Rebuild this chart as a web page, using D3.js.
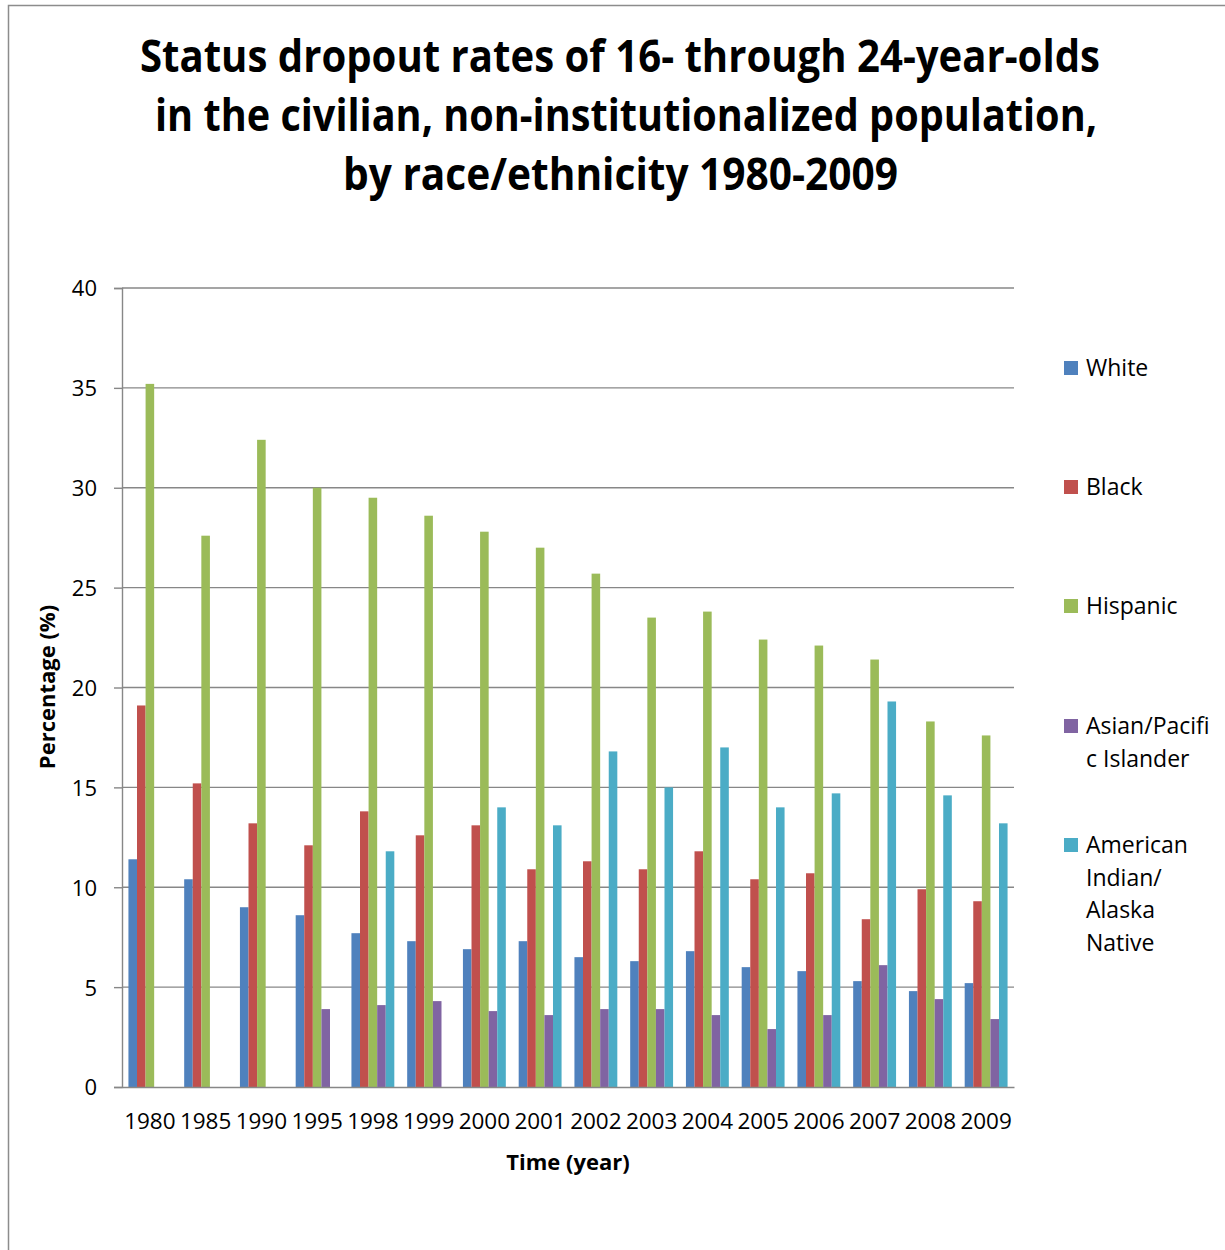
<!DOCTYPE html>
<html>
<head>
<meta charset="utf-8">
<script src="https://cdn.jsdelivr.net/npm/d3@7"></script>
<style>
  html, body { margin: 0; padding: 0; background: #fff; }
  svg { display: block; }
</style>
</head>
<body>
<svg id="chart" width="1225" height="1250"></svg>
<script>
// Status dropout rates (%) by race/ethnicity, 1980-2009
const years = ["1980","1985","1990","1995","1998","1999","2000","2001","2002","2003","2004","2005","2006","2007","2008","2009"];
const seriesNames = ["White", "Black", "Hispanic", "Asian/Pacific Islander", "American Indian/ Alaska Native"];
const white    = [11.4, 10.4, 9.0, 8.6, 7.7, 7.3, 6.9, 7.3, 6.5, 6.3, 6.8, 6.0, 5.8, 5.3, 4.8, 5.2];
const black    = [19.1, 15.2, 13.2, 12.1, 13.8, 12.6, 13.1, 10.9, 11.3, 10.9, 11.8, 10.4, 10.7, 8.4, 9.9, 9.3];
const hispanic = [35.2, 27.6, 32.4, 30.0, 29.5, 28.6, 27.8, 27.0, 25.7, 23.5, 23.8, 22.4, 22.1, 21.4, 18.3, 17.6];
const asian    = [null, null, null, 3.9, 4.1, 4.3, 3.8, 3.6, 3.9, 3.9, 3.6, 2.9, 3.6, 6.1, 4.4, 3.4];
const aian     = [null, null, null, null, 11.8, null, 14.0, 13.1, 16.8, 15.0, 17.0, 14.0, 14.7, 19.3, 14.6, 13.2];
const yTicks   = [0, 5, 10, 15, 20, 25, 30, 35, 40];
const colors   = ["#4F81BD", "#C0504D", "#9BBB59", "#8064A2", "#4BACC6"];
// legend entries as wrapped in the legend box
const legendLines = [["White"], ["Black"], ["Hispanic"], ["Asian/Pacifi", "c Islander"], ["American", "Indian/", "Alaska", "Native"]];

const seriesValues = [white, black, hispanic, asian, aian];

const svg = d3.select("#chart");
const FONT = "'Open Sans', 'DejaVu Sans', sans-serif";
const AXIS_GREY = "#878787";

// outer chart frame
svg.append("path")
  .attr("d", "M8.5,1250 V5.5 H1225")
  .attr("fill", "none")
  .attr("stroke", "#8c8c8c")
  .attr("stroke-width", 1.5);

// title (tall, condensed bold lines)
const titleLines = [
  { text: "Status dropout rates of 16- through 24-year-olds", cx: 620, width: 960 },
  { text: "in the civilian, non-institutionalized population,", cx: 626, width: 942 },
  { text: "by race/ethnicity 1980-2009", cx: 620.5, width: 555 }
];
svg.append("g").selectAll("text")
  .data(titleLines)
  .join("text")
  .attr("x", d => d.cx)
  .attr("y", (d, i) => 72 + i * 59)
  .attr("text-anchor", "middle")
  .attr("font-family", FONT)
  .attr("font-weight", "bold")
  .attr("font-size", 44)
  .attr("fill", "#000")
  .attr("textLength", d => d.width)
  .attr("lengthAdjust", "spacingAndGlyphs")
  .text(d => d.text);

// plot area
const plotLeft = 122, plotRight = 1014, plotTop = 288, plotBottom = 1087;

const y = d3.scaleLinear().domain([0, 40]).range([plotBottom, plotTop]);

// clustered columns: gap between clusters is 150% of one bar
const gapRatio = 1.5 / (seriesNames.length + 1.5);
const x0 = d3.scaleBand().domain(years).range([plotLeft, plotRight])
  .paddingInner(gapRatio).paddingOuter(gapRatio / 2);
const x1 = d3.scaleBand().domain(d3.range(seriesNames.length)).range([0, x0.bandwidth()]);

// horizontal gridlines
svg.append("g").selectAll("line")
  .data(yTicks.filter(t => t > 0))
  .join("line")
  .attr("x1", plotLeft).attr("x2", plotRight)
  .attr("y1", d => y(d)).attr("y2", d => y(d))
  .attr("stroke", AXIS_GREY)
  .attr("stroke-width", 1.4);

// y axis
const yAxis = d3.axisLeft(y).tickValues(yTicks).tickSize(8).tickPadding(17);
const gy = svg.append("g").attr("transform", `translate(${plotLeft},0)`).call(yAxis);
gy.select(".domain").attr("stroke", AXIS_GREY).attr("stroke-width", 1.4);
gy.selectAll(".tick line").attr("stroke", AXIS_GREY).attr("stroke-width", 1.4);
gy.selectAll(".tick text")
  .attr("font-family", FONT).attr("font-size", 22).attr("fill", "#000")
  .attr("dy", "0.36em");

// bars
const groups = svg.append("g").selectAll("g")
  .data(years)
  .join("g")
  .attr("transform", d => `translate(${x0(d)},0)`);

groups.selectAll("rect")
  .data((yr, yi) => seriesValues.map((vals, si) => ({ si, v: vals[yi] })).filter(d => d.v != null))
  .join("rect")
  .attr("x", d => x1(d.si))
  .attr("width", x1.bandwidth())
  .attr("y", d => y(d.v))
  .attr("height", d => y(0) - y(d.v))
  .attr("fill", d => colors[d.si]);

// x axis
const xAxis = d3.axisBottom(x0).tickSize(0).tickPadding(26);
const gx = svg.append("g").attr("transform", `translate(0,${plotBottom})`).call(xAxis);
gx.select(".domain").attr("stroke", AXIS_GREY).attr("stroke-width", 1.4);
gx.selectAll(".tick text")
  .attr("font-family", FONT).attr("font-size", 22.5).attr("fill", "#000");

// axis titles
svg.append("text")
  .attr("x", 568).attr("y", 1170)
  .attr("text-anchor", "middle")
  .attr("font-family", FONT).attr("font-weight", "bold").attr("font-size", 22)
  .text("Time (year)");

svg.append("text")
  .attr("transform", "translate(55,687) rotate(-90)")
  .attr("text-anchor", "middle")
  .attr("font-family", FONT).attr("font-weight", "bold").attr("font-size", 22)
  .text("Percentage (%)");

// legend
const legendY = [368, 487, 606, 726, 845];
const legend = svg.append("g").selectAll("g")
  .data(seriesNames)
  .join("g")
  .attr("transform", (d, i) => `translate(1064,${legendY[i]})`);

legend.append("rect")
  .attr("x", 0).attr("y", -7)
  .attr("width", 14).attr("height", 14)
  .attr("fill", (d, i) => colors[i]);

legend.append("text")
  .attr("font-family", FONT).attr("font-size", 23).attr("fill", "#000")
  .selectAll("tspan")
  .data((d, i) => legendLines[i])
  .join("tspan")
  .attr("x", 22)
  .attr("y", (d, j) => 8 + j * 32.5)
  .text(d => d);
</script>
</body>
</html>
